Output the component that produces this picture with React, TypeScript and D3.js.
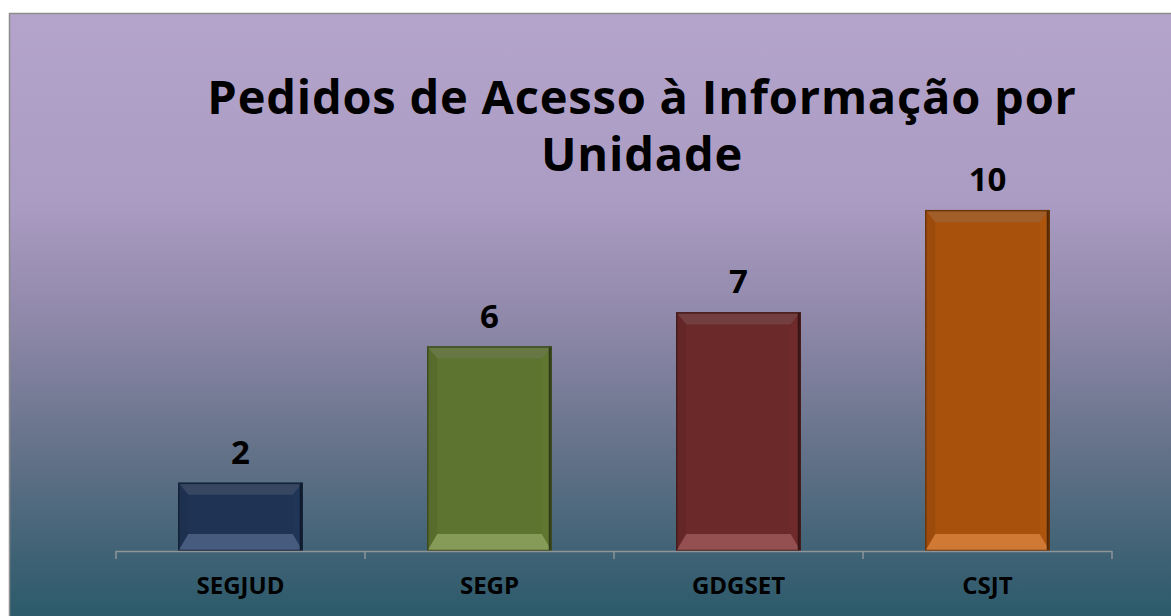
import * as d3 from "d3";

const categories = ["SEGJUD", "SEGP", "GDGSET", "CSJT"];
const values = [2, 6, 7, 10];
const title = ["Pedidos de Acesso à Informação por", "Unidade"];

const barColors = ["#1f3455", "#5d7330", "#6c292a", "#a7510d"];

const W = 1171;
const H = 616;
const plot = { left: 116, right: 1112, top: 142, bottom: 551 };
const font = "'Open Sans', Lato, sans-serif";

export default function App() {
  const x = d3
    .scaleBand<string>()
    .domain(categories)
    .range([plot.left, plot.right])
    .paddingInner(0.5)
    .paddingOuter(0.25);

  const y = d3.scaleLinear().domain([0, 12]).range([plot.bottom, plot.top]);

  // tick marks sit on the band boundaries
  const step = x.step();
  const ticks = d3.range(categories.length + 1).map((i) => plot.left + i * step);

  return (
    <svg
      width={W}
      height={H}
      style={{ position: "absolute", left: 0, top: 0 }}
    >
      <defs>
        <linearGradient id="bg" x1="0" y1="0" x2="0" y2="1">
          <stop offset="0" stopColor="#b4a4cb" />
          <stop offset="0.3" stopColor="#ab9cc3" />
          <stop offset="0.5" stopColor="#8f88a9" />
          <stop offset="0.7" stopColor="#66738a" />
          <stop offset="0.88" stopColor="#3f6275" />
          <stop offset="1" stopColor="#285968" />
        </linearGradient>
      </defs>
      <rect x={0} y={0} width={W} height={H} fill="#fff" />
      <rect
        x={9.5}
        y={13.5}
        width={W}
        height={H}
        fill="url(#bg)"
        stroke="#8c8c8c"
        strokeWidth={1.5}
      />

      <text
        textAnchor="middle"
        fontFamily={font}
        fontWeight="bold"
        fontSize={47}
        letterSpacing={0.8}
        fill="#000"
      >
        {title.map((t, i) => (
          <tspan key={i} x={642} y={114 + i * 57}>
            {t}
          </tspan>
        ))}
      </text>

      {values.map((v, i) => {
        const x0 = x(categories[i])!;
        const x1 = x0 + x.bandwidth();
        const y0 = y(v);
        const y1 = y(0);
        const base = d3.color(barColors[i])!;
        const hex = base.formatHex();
        const bt = 12; // top bevel
        const bs = 10; // side bevel
        const bb = 17; // bottom bevel
        const ix0 = x0 + bs;
        const ix1 = x1 - bs;
        const iy0 = y0 + bt;
        const iy1 = y1 - bb;
        const pts = (a: number[][]) => a.map((p) => p.join(",")).join(" ");
        return (
          <g key={categories[i]}>
            <rect x={x0} y={y0} width={x1 - x0} height={y1 - y0} fill={hex} />
            <polygon
              points={pts([[x0, y0], [x1, y0], [ix1, iy0], [ix0, iy0]])}
              fill={d3.interpolateRgb(hex, "#8a8a8a")(0.22)}
            />
            <polygon
              points={pts([[x0, y0], [ix0, iy0], [ix0, iy1], [x0, y1]])}
              fill={base.darker(0.2).formatHex()}
            />
            <polygon
              points={pts([[x1, y0], [ix1, iy0], [ix1, iy1], [x1, y1]])}
              fill={base.brighter(0.1).formatHex()}
            />
            <polygon
              points={pts([[x0, y1], [ix0, iy1], [ix1, iy1], [x1, y1]])}
              fill={d3.interpolateRgb(base.brighter(0.5).formatHex(), "#ffffff")(0.15)}
            />
            <rect x={x1 - 3} y={y0} width={3} height={y1 - y0} fill={base.darker(2).formatHex()} />
            <rect
              x={x0 + 0.5}
              y={y0 + 0.5}
              width={x1 - x0 - 1}
              height={y1 - y0 - 1}
              fill="none"
              stroke={base.darker(1.2).formatHex()}
              strokeWidth={1.5}
            />
            <text
              x={(x0 + x1) / 2}
              y={y0 - 19}
              textAnchor="middle"
              fontFamily={font}
              fontWeight="bold"
              fontSize={33}
              fill="#000"
            >
              {v}
            </text>
          </g>
        );
      })}

      <line
        x1={plot.left}
        x2={plot.right}
        y1={plot.bottom + 0.5}
        y2={plot.bottom + 0.5}
        stroke="#8e9599"
        strokeWidth={1.5}
      />
      {ticks.map((t) => (
        <line
          key={t}
          x1={t}
          x2={t}
          y1={plot.bottom}
          y2={plot.bottom + 8}
          stroke="#8e9599"
          strokeWidth={1.5}
        />
      ))}
      {categories.map((c) => (
        <text
          key={c}
          x={x(c)! + x.bandwidth() / 2}
          y={594}
          textAnchor="middle"
          fontFamily={font}
          fontWeight="bold"
          fontSize={24}
          fill="#000"
        >
          {c}
        </text>
      ))}
    </svg>
  );
}
